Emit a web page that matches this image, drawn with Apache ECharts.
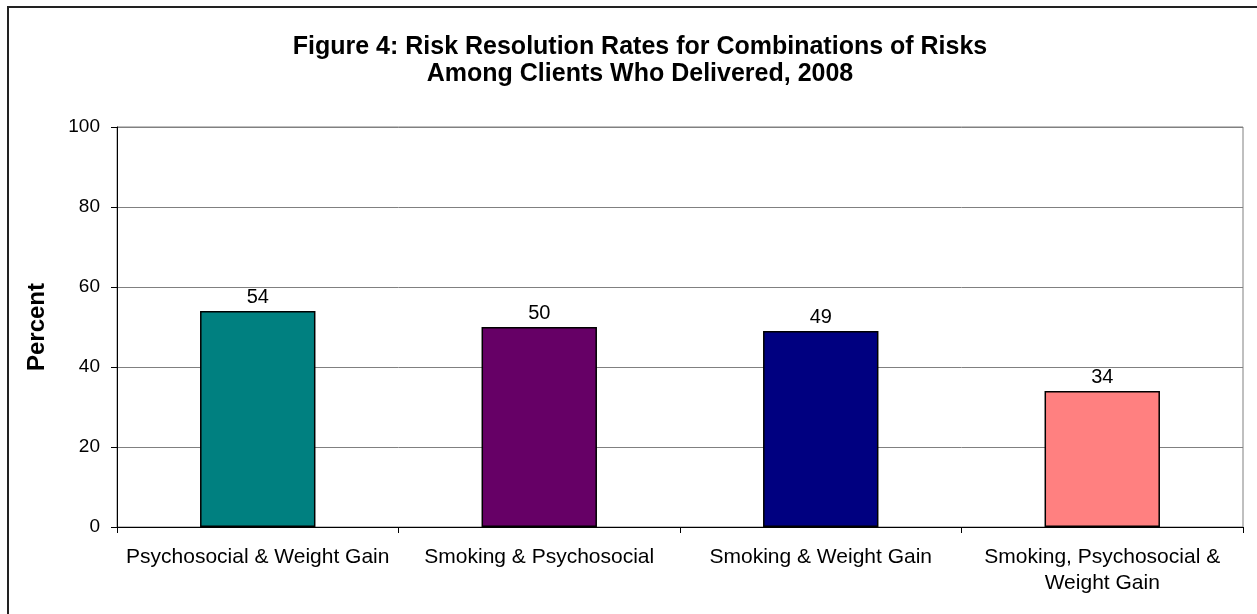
<!DOCTYPE html>
<html>
<head>
<meta charset="utf-8">
<style>
  html, body { margin: 0; padding: 0; background: #fff; }
  #chart { width: 1257px; height: 614px; }
</style>
<script src="https://cdn.jsdelivr.net/npm/echarts@6/dist/echarts.min.js"></script>
</head>
<body>
<div id="chart"></div>
<script>
// Risk combinations and their resolution rates (percent)
const categories = [
  'Psychosocial & Weight Gain',
  'Smoking & Psychosocial',
  'Smoking & Weight Gain',
  'Smoking, Psychosocial &\nWeight Gain'
];
const rates = [54, 50, 49, 34];
const barColors = ['#008080', '#660066', '#000080', '#FF8080'];
const yTicks = { min: 0, max: 100, step: 20 };
const titleLines = [
  'Figure 4: Risk Resolution Rates for Combinations of Risks',
  'Among Clients Who Delivered, 2008'
];
const yAxisTitle = 'Percent';

const FONT = '"Liberation Sans", Arial, Helvetica, sans-serif';

const chart = echarts.init(document.getElementById('chart'), null, { renderer: 'canvas' });

chart.setOption({
  backgroundColor: '#ffffff',
  animation: false,
  title: {
    text: titleLines.join('\n'),
    left: 635,
    textAlign: 'center',
    top: 29,
    textStyle: {
      fontFamily: FONT,
      fontSize: 25,
      fontWeight: 'bold',
      color: '#000',
      lineHeight: 27
    }
  },
  graphic: [{
    type: 'rect',
    shape: { x: 8, y: 7, width: 1270, height: 640 },
    style: { fill: 'none', stroke: '#222', lineWidth: 2 },
    silent: true,
    z: 100
  }],
  grid: {
    left: 117,
    top: 127,
    right: 14,
    bottom: 87,
    show: true,
    borderColor: '#808080',
    borderWidth: 1,
    containLabel: false
  },
  xAxis: {
    type: 'category',
    data: categories,
    boundaryGap: true,
    axisLine: { show: true, lineStyle: { color: '#000', width: 1 } },
    axisTick: { show: true, alignWithLabel: false, length: 6, lineStyle: { color: '#000' } },
    axisLabel: {
      interval: 0,
      margin: 17,
      color: '#000',
      fontFamily: FONT,
      fontSize: 21,
      lineHeight: 26
    },
    splitLine: { show: false }
  },
  yAxis: {
    type: 'value',
    min: yTicks.min,
    max: yTicks.max,
    interval: yTicks.step,
    name: yAxisTitle,
    nameLocation: 'middle',
    nameRotate: 90,
    nameGap: 68,
    nameTextStyle: {
      fontFamily: FONT,
      fontSize: 24,
      fontWeight: 'bold',
      color: '#000'
    },
    axisLine: { show: true, lineStyle: { color: '#000', width: 1 } },
    axisTick: { show: true, length: 6, lineStyle: { color: '#000' } },
    axisLabel: {
      margin: 17,
      color: '#000',
      fontFamily: FONT,
      fontSize: 19
    },
    splitLine: { show: true, lineStyle: { color: '#808080', width: 1 } }
  },
  series: [{
    type: 'bar',
    data: rates.map((v, i) => ({
      value: v,
      itemStyle: { color: barColors[i], borderColor: '#000', borderWidth: 1.5 }
    })),
    barWidth: '41%',
    label: {
      show: true,
      position: 'top',
      distance: 4,
      color: '#000',
      fontFamily: FONT,
      fontSize: 20
    }
  }]
});
</script>
</body>
</html>
